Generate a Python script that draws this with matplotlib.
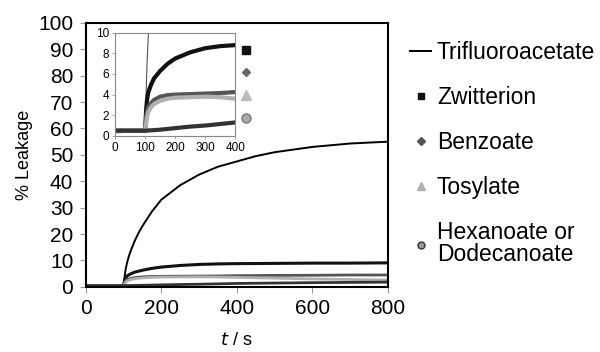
import matplotlib
matplotlib.use("Agg")
import matplotlib.pyplot as plt
from matplotlib.lines import Line2D

plt.rcParams['font.family'] = ['Liberation Sans', 'DejaVu Sans']

# --- données ---
t_tfa = [0, 100, 103, 106, 110, 115, 120, 130, 140, 150, 175, 200, 250, 300,
         350, 400, 450, 500, 600, 700, 800]
tfa = [0.3, 0.4, 4, 7, 9.5, 12, 14, 17.5, 20.5, 23, 28.5, 33, 38.5, 42.5,
       45.5, 47.5, 49.5, 51, 53, 54.3, 55]

t_an = [0, 100, 103, 106, 110, 120, 130, 150, 175, 200, 250, 300, 350, 400,
        500, 600, 700, 800]
zwitterion = [0.5, 0.5, 2.5, 3.5, 4.2, 5.0, 5.6, 6.3, 7.0, 7.5, 8.1, 8.5, 8.7, 8.8,
              8.9, 9.0, 9.0, 9.1]
benzoate = [0.5, 0.5, 1.8, 2.4, 2.8, 3.2, 3.5, 3.8, 3.95, 4.0, 4.05, 4.1, 4.15, 4.25,
            4.35, 4.4, 4.5, 4.5]
tosylate = [0.5, 0.5, 1.2, 1.8, 2.3, 2.8, 3.1, 3.4, 3.6, 3.7, 3.75, 3.8, 3.75, 3.6,
            3.3, 3.0, 2.8, 2.6]

t_hex = [0, 100, 150, 200, 250, 300, 350, 400, 500, 600, 700, 800]
hexanoate = [0.5, 0.5, 0.6, 0.75, 0.9, 1.0, 1.15, 1.3, 1.45, 1.6, 1.7, 1.8]

labels = ["Trifluoroacetate", "Zwitterion", "Benzoate", "Tosylate",
          "Hexanoate or\nDodecanoate"]

c_zw = "#111111"
c_bz = "#555555"
c_ts = "#b0b0b0"
c_hx = "#333333"

fig = plt.figure(figsize=(6, 3.52), dpi=100)

# --- graphique principal ---
ax = fig.add_axes([0.143, 0.185, 0.503, 0.75])
ax.plot(t_tfa, tfa, color="black", lw=1.4)
ax.plot(t_an, zwitterion, color=c_zw, lw=2.2)
ax.plot(t_an, benzoate, color=c_bz, lw=2.0)
ax.plot(t_an, tosylate, color=c_ts, lw=2.0)
ax.plot(t_hex, hexanoate, color=c_hx, lw=2.0)

ax.set_xlim(0, 800)
ax.set_ylim(0, 100)
ax.set_xticks(range(0, 801, 200))
ax.set_yticks(range(0, 101, 10))
ax.tick_params(labelsize=15, color="#999999", length=4, width=0.8, pad=5)
for s in ax.spines.values():
    s.set_linewidth(1.5)
ax.set_ylabel("% Leakage", fontsize=13, labelpad=4)
ax.set_xlabel("$\\it{t}$ / s", fontsize=13, labelpad=10)

handles = [
    Line2D([], [], color="black", lw=1.4),
    Line2D([], [], ls="none", marker="s", color=c_zw, ms=4.5),
    Line2D([], [], ls="none", marker="D", color=c_bz, ms=4),
    Line2D([], [], ls="none", marker="^", color=c_ts, ms=5.5),
    Line2D([], [], ls="none", marker="o", mfc="#999999", mec="#333333", ms=5),
]
leg = fig.legend(handles, labels, loc="upper left", bbox_to_anchor=(0.665, 0.915),
                 frameon=False, fontsize=16.5, handlelength=0.9, handletextpad=0.25,
                 labelspacing=0.96, borderpad=0)
for txt in leg.get_texts():
    txt.set_linespacing(0.95)

# --- encart ---
ax_in = fig.add_axes([0.192, 0.614, 0.2, 0.293])
ax_in.plot(t_tfa, tfa, color="#555555", lw=0.8)
ax_in.plot(t_an, zwitterion, color=c_zw, lw=3)
ax_in.plot(t_an, benzoate, color=c_bz, lw=3)
ax_in.plot(t_an, tosylate, color=c_ts, lw=3)
ax_in.plot(t_hex, hexanoate, color=c_hx, lw=3)
ax_in.set_xlim(0, 400)
ax_in.set_ylim(0, 10)
ax_in.set_xticks(range(0, 401, 100))
ax_in.set_yticks(range(0, 11, 2))
ax_in.tick_params(labelsize=8.5, color="#999999", length=2.5, width=0.6, pad=2)
for s in ax_in.spines.values():
    s.set_color("#888888")
    s.set_linewidth(0.8)

in_handles = [
    Line2D([], [], ls="none", marker="s", color="#111111", ms=6),
    Line2D([], [], ls="none", marker="D", color="#666666", ms=4.5),
    Line2D([], [], ls="none", marker="^", color="#bbbbbb", ms=6.5),
    Line2D([], [], ls="none", marker="o", mfc="#aaaaaa", mec="#777777", ms=6.5),
]
ax_in.legend(in_handles, [""] * 4, loc="upper left", bbox_to_anchor=(1.0, 0.93),
             frameon=False, fontsize=8, handlelength=1.0, handletextpad=0,
             labelspacing=1.15, borderpad=0)

fig.savefig("out.png", dpi=100)
